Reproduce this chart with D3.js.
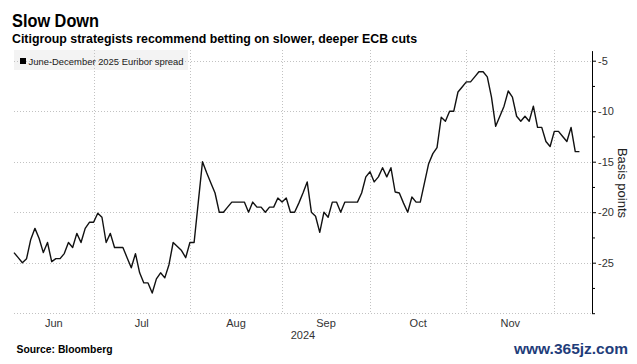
<!DOCTYPE html>
<html><head><meta charset="utf-8">
<script src="https://cdn.jsdelivr.net/npm/d3@7"></script>
<style>
body{margin:0;background:#fff}
svg{display:block}
text{font-family:"Liberation Sans",Arial,sans-serif}
</style>
</head><body>
<svg id="c" width="637" height="364"></svg>
<script>
// ---------- DATA ----------
const dates = [
"2024-06-04","2024-06-05","2024-06-06","2024-06-07","2024-06-10","2024-06-11","2024-06-12","2024-06-13","2024-06-14","2024-06-17","2024-06-18","2024-06-19","2024-06-20","2024-06-21","2024-06-24","2024-06-25","2024-06-26","2024-06-27","2024-06-28",
"2024-07-01","2024-07-02","2024-07-03","2024-07-04","2024-07-05","2024-07-08","2024-07-09","2024-07-10","2024-07-11","2024-07-12","2024-07-15","2024-07-16","2024-07-17","2024-07-18","2024-07-19","2024-07-22","2024-07-23","2024-07-24","2024-07-25","2024-07-26","2024-07-29","2024-07-30","2024-07-31",
"2024-08-01","2024-08-02","2024-08-05","2024-08-06","2024-08-07","2024-08-08","2024-08-09","2024-08-12","2024-08-13","2024-08-14","2024-08-15","2024-08-16","2024-08-19","2024-08-20","2024-08-21","2024-08-22","2024-08-23","2024-08-26","2024-08-27","2024-08-28","2024-08-29","2024-08-30",
"2024-09-02","2024-09-03","2024-09-04","2024-09-05","2024-09-06","2024-09-09","2024-09-10","2024-09-11","2024-09-12","2024-09-13","2024-09-16","2024-09-17","2024-09-18","2024-09-19","2024-09-20","2024-09-23","2024-09-24","2024-09-25","2024-09-26","2024-09-27","2024-09-30",
"2024-10-01","2024-10-02","2024-10-03","2024-10-04","2024-10-07","2024-10-08","2024-10-09","2024-10-10","2024-10-11","2024-10-14","2024-10-15","2024-10-16","2024-10-17","2024-10-18","2024-10-21","2024-10-22","2024-10-23","2024-10-24","2024-10-25","2024-10-28","2024-10-29","2024-10-30","2024-10-31",
"2024-11-01","2024-11-04","2024-11-05","2024-11-06","2024-11-07","2024-11-08","2024-11-11","2024-11-12","2024-11-13","2024-11-14","2024-11-15","2024-11-18","2024-11-19","2024-11-20","2024-11-21","2024-11-22","2024-11-25","2024-11-26","2024-11-27","2024-11-28","2024-11-29",
"2024-12-02","2024-12-03","2024-12-04","2024-12-05","2024-12-06","2024-12-09","2024-12-10"
];
const spread = [
-24.0,-24.5,-25.0,-24.6,-22.7,-21.6,-22.6,-24.0,-23.0,-24.9,-24.6,-24.6,-24.1,-23.0,-23.5,-22.1,-23.0,-21.6,-21.0,
-21.0,-20.1,-20.5,-23.0,-22.1,-23.5,-23.5,-23.5,-24.5,-25.5,-24.1,-26.0,-27.0,-27.0,-28.0,-26.6,-26.0,-26.5,-25.2,-23.0,-23.4,-23.8,-24.5,
-23.0,-23.0,-19.0,-15.0,-16.1,-17.1,-18.1,-20.0,-20.0,-19.5,-19.0,-19.0,-19.0,-19.0,-20.0,-19.0,-19.5,-19.5,-20.0,-19.5,-19.5,-18.6,
-19.0,-18.6,-20.0,-20.0,-19.1,-18.1,-17.0,-20.0,-20.4,-22.0,-20.0,-20.5,-19.0,-19.0,-20.0,-19.0,-19.0,-19.0,-19.0,-18.1,-16.5,
-16.0,-17.0,-16.5,-15.6,-16.5,-15.6,-18.0,-18.1,-19.1,-20.0,-18.5,-19.0,-19.0,-17.1,-15.2,-14.2,-13.6,-10.6,-11.0,-10.0,-10.0,-8.1,-7.6,
-7.1,-7.1,-6.6,-6.1,-6.1,-6.6,-8.6,-11.5,-10.5,-9.5,-8.0,-8.6,-10.5,-11.0,-10.5,-11.0,-9.5,-11.6,-11.6,-13.0,-13.5,
-12.0,-12.0,-12.5,-13.0,-11.6,-14.0,-14.0
];
const yMajorTicks = [-5,-10,-15,-20,-25];
const yMinorTicks = [-7.5,-12.5,-17.5,-22.5,-27.5,-30];
const yGridTicks = [-5,-10,-15,-20,-25,-30];
const monthLabels = ["Jun","Jul","Aug","Sep","Oct","Nov"];
const yearLabel = "2024";
const titleText = "Slow Down";
const subtitleText = "Citigroup strategists recommend betting on slower, deeper ECB cuts";
const legendText = "June-December 2025 Euribor spread";
const axisTitle = "Basis points";
const sourceText = "Source: Bloomberg";
const watermark = "www.365jz.com";

// ---------- LAYOUT ----------
const L = 14, R = 592, T = 50.6, B = 313.2;
const svg = d3.select("#c");
const x = d3.scaleLinear().domain([0, dates.length + 2]).range([L, R]);
const y = d3.scaleLinear().domain([-30, -4]).range([B, T]);

// month boundaries (index of first business day of each month)
const parse = d3.timeParse("%Y-%m-%d");
const pd = dates.map(parse);
const starts = [0];
for (let i = 1; i < pd.length; i++) if (pd[i].getMonth() !== pd[i-1].getMonth()) starts.push(i);

const grid = svg.append("g").attr("stroke", "#c2c2c2").attr("stroke-width", 1).attr("stroke-dasharray", "1,2");
grid.selectAll("line.h").data(yGridTicks).join("line")
  .attr("x1", L).attr("x2", R)
  .attr("y1", d => Math.round(y(d)) + 0.5).attr("y2", d => Math.round(y(d)) + 0.5);

// legend box
svg.append("rect").attr("x", 14).attr("y", 50).attr("width", 174).attr("height", 20).attr("fill", "#f3f3f3");

grid.raise();
grid.selectAll("line.v").data(starts.slice(1)).join("line")
  .attr("x1", d => Math.round(x(d)) + 0.5).attr("x2", d => Math.round(x(d)) + 0.5)
  .attr("y1", 50).attr("y2", B);

svg.append("rect").attr("x", 20).attr("y", 58).attr("width", 6).attr("height", 6).attr("fill", "#000");
svg.append("text").attr("x", 28.5).attr("y", 64.5).attr("font-size", 9).attr("fill", "#222")
  .attr("textLength", 155).attr("lengthAdjust", "spacingAndGlyphs").text(legendText);

// line
const line = d3.line().x((d, i) => x(i)).y(d => y(d));
svg.append("path").datum(spread).attr("d", line)
  .attr("fill", "none").attr("stroke", "#111").attr("stroke-width", 1.4).attr("stroke-linejoin", "round");

// right axis
const ax = svg.append("g").attr("transform", `translate(${R},0)`)
  .call(d3.axisRight(y).tickValues(yMajorTicks).tickSize(4).tickSizeOuter(0).tickPadding(2).tickFormat(d => String(d)));
ax.select(".domain").attr("stroke", "#000");
ax.selectAll(".tick line").attr("stroke", "#000");
ax.selectAll(".tick text").attr("font-size", 11).attr("fill", "#333").attr("font-family", "Liberation Sans, Arial, sans-serif");
const axm = svg.append("g").attr("transform", `translate(${R},0)`)
  .call(d3.axisRight(y).tickValues(yMinorTicks).tickSize(3).tickSizeOuter(0).tickFormat(""));
axm.select(".domain").remove();
axm.selectAll(".tick line").attr("stroke", "#000");

svg.append("text").attr("transform", "translate(617.5,183) rotate(90)")
  .attr("text-anchor", "middle").attr("font-size", 13).attr("fill", "#222").text(axisTitle);

// month labels
const labelPos = monthLabels.map((m, i) => ({m, c: (starts[i] + starts[i+1]) / 2}));
svg.selectAll("text.month").data(labelPos).join("text")
  .attr("x", d => x(d.c)).attr("y", 326.5).attr("text-anchor", "middle")
  .attr("font-size", 11).attr("fill", "#333").text(d => d.m);
svg.append("text").attr("x", (L + R) / 2).attr("y", 339).attr("text-anchor", "middle")
  .attr("font-size", 11).attr("fill", "#333").text(yearLabel);

// titles
svg.append("text").attr("x", 12).attr("y", 26.5).attr("font-size", 17.5).attr("font-weight", "bold")
  .attr("fill", "#000").attr("textLength", 87).attr("lengthAdjust", "spacingAndGlyphs").text(titleText);
svg.append("text").attr("x", 12).attr("y", 43).attr("font-size", 12.5).attr("font-weight", "bold")
  .attr("fill", "#000").attr("textLength", 405).attr("lengthAdjust", "spacingAndGlyphs").text(subtitleText);
svg.append("text").attr("x", 16.5).attr("y", 352.5).attr("font-size", 10).attr("font-weight", "bold")
  .attr("fill", "#000").attr("textLength", 96).attr("lengthAdjust", "spacingAndGlyphs").text(sourceText);
svg.append("text").attr("x", 514).attr("y", 354).attr("font-size", 15).attr("font-weight", "bold")
  .attr("font-family", "Liberation Serif, serif")
  .attr("fill", "#1f3d7a").attr("textLength", 114).attr("lengthAdjust", "spacingAndGlyphs").text(watermark);
</script>
</body></html>
